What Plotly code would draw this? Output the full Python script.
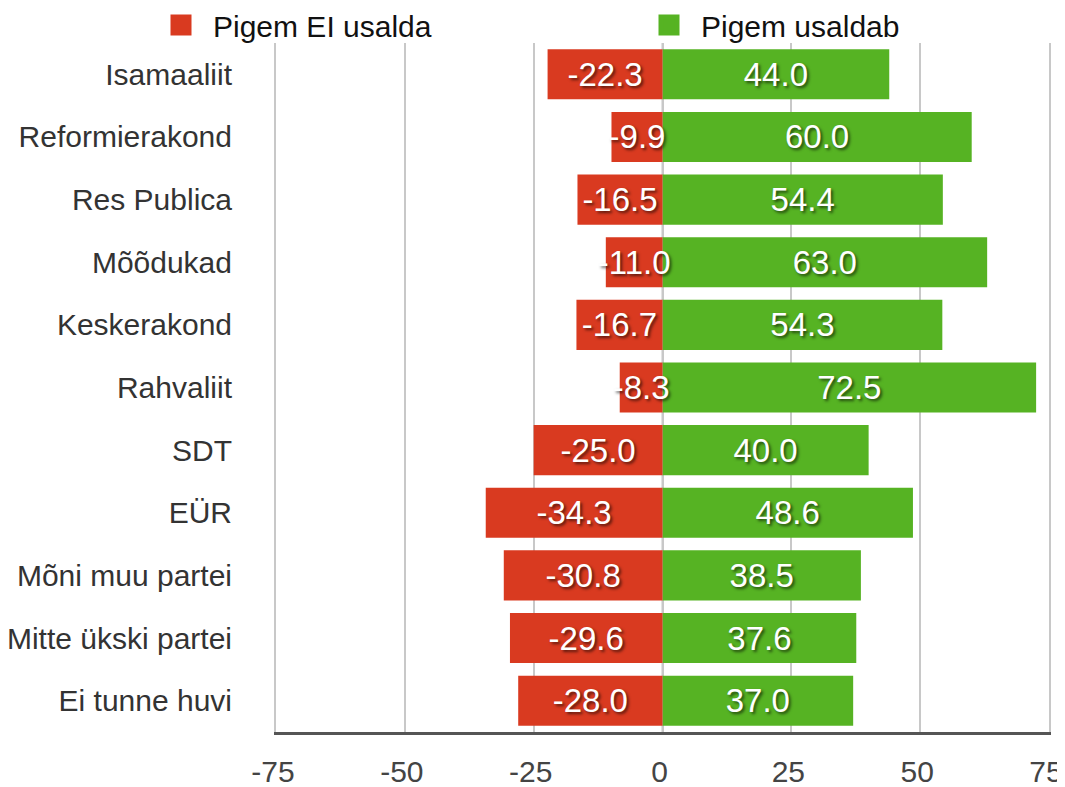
import plotly.graph_objects as go

categories = ["Isamaaliit", "Reformierakond", "Res Publica", "Mõõdukad", "Keskerakond",
              "Rahvaliit", "SDT", "EÜR", "Mõni muu partei", "Mitte ükski partei", "Ei tunne huvi"]
distrust = [-22.3, -9.9, -16.5, -11.0, -16.7, -8.3, -25.0, -34.3, -30.8, -29.6, -28.0]
trust = [44.0, 60.0, 54.4, 63.0, 54.3, 72.5, 40.0, 48.6, 38.5, 37.6, 37.0]
series_names = ["Pigem EI usalda", "Pigem usaldab"]
x_ticks = [-75, -50, -25, 0, 25, 50, 75]

RED = "#D93A20"
GREEN = "#56B323"
FONT = "Liberation Sans, Arial, sans-serif"
GRID = "#c8c8c8"

bar_text_font = dict(family=FONT, size=33, color="white",
                     shadow="2px 2px 3px rgba(0,0,0,0.6)")

fig = go.Figure()
# green first so the red labels draw on top where they spill over
fig.add_trace(go.Bar(
    y=categories, x=trust, orientation="h", name=series_names[1],
    marker=dict(color=GREEN, line=dict(width=0)),
    texttemplate="%{x:.1f}", textposition="inside", insidetextanchor="middle",
    textangle=0, constraintext="none", textfont=bar_text_font, cliponaxis=False,
    showlegend=False, hoverinfo="x+y",
))
fig.add_trace(go.Bar(
    y=categories, x=distrust, orientation="h", name=series_names[0],
    marker=dict(color=RED, line=dict(width=0)),
    texttemplate="%{x:.1f}", textposition="inside", insidetextanchor="middle",
    textangle=0, constraintext="none", textfont=bar_text_font, cliponaxis=False,
    showlegend=False, hoverinfo="x+y",
))
# legend entries (larger squares than the bar legend glyph)
fig.add_trace(go.Scatter(x=[None], y=[None], mode="markers", name=series_names[0],
                         marker=dict(symbol="square", size=16, color=RED,
                                     line=dict(color=RED, width=5)),
                         legend="legend"))
fig.add_trace(go.Scatter(x=[None], y=[None], mode="markers", name=series_names[1],
                         marker=dict(symbol="square", size=16, color=GREEN,
                                     line=dict(color=GREEN, width=5)),
                         legend="legend2"))

fig.add_vline(x=0, line=dict(color=GRID, width=2), layer="below")

legend_common = dict(orientation="h", xref="container", yref="container",
                     xanchor="left", yanchor="middle", itemwidth=54,
                     font=dict(family=FONT, size=30, color="#111"),
                     bgcolor="rgba(0,0,0,0)", borderwidth=0)

# the page body adds an 8px offset, so margins are set 8px smaller on the top/left
fig.update_layout(
    width=1065, height=787,
    margin=dict(l=268, r=24, t=35, b=63, pad=0, autoexpand=False),
    paper_bgcolor="white", plot_bgcolor="white",
    barmode="relative", bargap=0.2,
    font=dict(family=FONT, size=30, color="#333"),
    legend=dict(x=141 / 1065, y=1 - 17 / 787, **legend_common),
    legend2=dict(x=629 / 1065, y=1 - 17 / 787, **legend_common),
    xaxis=dict(
        range=[-75, 75], tickvals=x_ticks, ticktext=[str(v) for v in x_ticks],
        showgrid=True, gridcolor=GRID, gridwidth=2,
        zeroline=False, showline=True, linecolor="#555", linewidth=3,
        ticks="", ticklabelstandoff=11, ticklabelshift=-3,
        tickfont=dict(family=FONT, size=30, color="#444"),
    ),
    yaxis=dict(
        type="category", categoryorder="array", categoryarray=categories,
        range=[len(categories) - 0.5, -0.5],
        showgrid=False, zeroline=False, showline=True, mirror=True,
        linecolor=GRID, linewidth=2,
        ticks="", ticklabelstandoff=36,
        tickfont=dict(family=FONT, size=30, color="#333"),
    ),
)

fig.write_html("out.html")
